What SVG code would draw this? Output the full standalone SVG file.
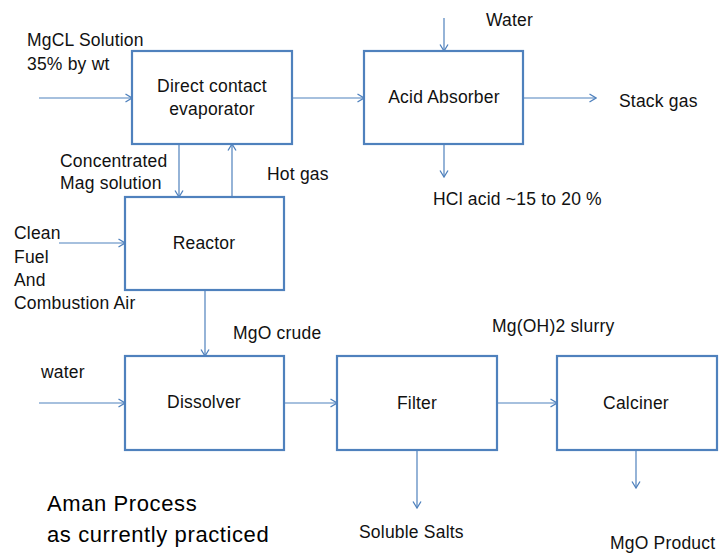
<svg xmlns="http://www.w3.org/2000/svg" width="720" height="554" viewBox="0 0 720 554">
  <style>
    .box { fill: #ffffff; stroke: #4f81bd; stroke-width: 2.2; }
    .flow { fill: none; stroke: #4f81bd; stroke-width: 1.2; marker-end: url(#chev); }
    text { font-family: "Liberation Sans", Arial, sans-serif; font-size: 17.5px; fill: #111111; letter-spacing: 0.2px; }
    .mid { text-anchor: middle; }
    .title { font-size: 22px; letter-spacing: 0.6px; fill: #000000; }
  </style>
  <defs>
    <marker id="chev" viewBox="0 0 10 10" refX="9.5" refY="5" markerWidth="10" markerHeight="10" markerUnits="userSpaceOnUse" orient="auto">
      <polyline points="3,1 9.5,5 3,9" fill="none" stroke="#4f81bd" stroke-width="1.3"/>
    </marker>
  </defs>

  <rect width="720" height="554" fill="#ffffff"/>

  <!-- process streams -->
  <g id="connectors">
    <line class="flow" x1="39" y1="98" x2="132" y2="98"/>
    <line class="flow" x1="292" y1="98" x2="364" y2="98"/>
    <line class="flow" x1="523" y1="98" x2="596" y2="98"/>
    <line class="flow" x1="444" y1="18" x2="444" y2="51"/>
    <line class="flow" x1="444" y1="144" x2="444" y2="177"/>
    <line class="flow" x1="179" y1="144" x2="179" y2="197"/>
    <line class="flow" x1="232" y1="197" x2="232" y2="144"/>
    <line class="flow" x1="59" y1="243" x2="125" y2="243"/>
    <line class="flow" x1="205" y1="290" x2="205" y2="356"/>
    <line class="flow" x1="39" y1="403" x2="125" y2="403"/>
    <line class="flow" x1="284" y1="403" x2="337" y2="403"/>
    <line class="flow" x1="497" y1="403" x2="557" y2="403"/>
    <line class="flow" x1="417" y1="450" x2="417" y2="508"/>
    <line class="flow" x1="636" y1="450" x2="636" y2="488"/>
  </g>

  <g id="evaporator">
    <rect class="box" x="132" y="51" width="160" height="93"/>
    <text class="mid" x="212" y="92">Direct contact</text>
    <text class="mid" x="212" y="115">evaporator</text>
  </g>

  <g id="absorber">
    <rect class="box" x="364" y="51" width="159" height="93"/>
    <text class="mid" x="444" y="103">Acid Absorber</text>
  </g>

  <g id="reactor">
    <rect class="box" x="125" y="197" width="159" height="93"/>
    <text class="mid" x="204" y="249">Reactor</text>
  </g>

  <g id="dissolver">
    <rect class="box" x="125" y="356" width="159" height="94"/>
    <text class="mid" x="204" y="408">Dissolver</text>
  </g>

  <g id="filter">
    <rect class="box" x="337" y="356" width="160" height="94"/>
    <text class="mid" x="417" y="409">Filter</text>
  </g>

  <g id="calciner">
    <rect class="box" x="557" y="356" width="160" height="94"/>
    <text class="mid" x="636" y="409">Calciner</text>
  </g>

  <!-- stream labels -->
  <g id="labels">
    <text x="27" y="46">MgCL Solution</text>
    <text x="27" y="70">35% by wt</text>
    <text x="486" y="26">Water</text>
    <text x="619" y="107">Stack gas</text>
    <text x="433" y="205">HCl acid ~15 to 20 %</text>
    <text x="60" y="167">Concentrated</text>
    <text x="60" y="189">Mag solution</text>
    <text x="267" y="180">Hot gas</text>
    <text x="14" y="239">Clean</text>
    <text x="14" y="263">Fuel</text>
    <text x="14" y="286">And</text>
    <text x="14" y="309">Combustion Air</text>
    <text x="233" y="339">MgO crude</text>
    <text x="41" y="378">water</text>
    <text x="492" y="332">Mg(OH)2 slurry</text>
    <text x="359" y="538">Soluble Salts</text>
    <text x="610" y="549">MgO Product</text>
  </g>

  <g id="caption">
    <text class="title" x="47" y="511">Aman Process</text>
    <text class="title" x="47" y="542">as currently practiced</text>
  </g>
</svg>
